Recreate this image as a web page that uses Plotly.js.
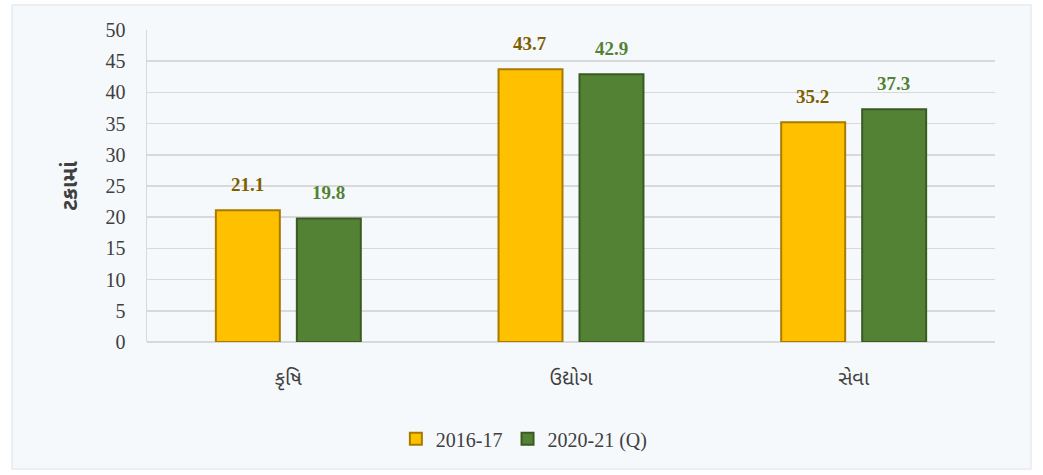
<!DOCTYPE html>
<html><head><meta charset="utf-8">
<script src="https://cdn.plot.ly/plotly-3.0.1.min.js"></script>
<style>html,body{margin:0;padding:0;background:#fff}</style>
</head><body><div id="chart" style="width:1043px;height:475px"></div>
<script>
const categories = ['કૃષિ', 'ઉદ્યોગ', 'સેવા'];
const series1Name = '2016-17';
const series1 = [21.1, 43.7, 35.2];
const series2Name = '2020-21 (Q)';
const series2 = [19.8, 42.9, 37.3];
const yTicks = [0, 5, 10, 15, 20, 25, 30, 35, 40, 45, 50];
const yTitle = 'ટકામાં';

const serif = '"Liberation Serif", "Times New Roman", serif';
const guj = '"Noto Sans Gujarati","Noto Sans", sans-serif';
const traces = [
  {type:'bar', name: series1Name, x: categories, y: series1,
   marker:{color:'#FFC000', line:{color:'#A87A00', width:2}}, hoverinfo:'none'},
  {type:'bar', name: series2Name, x: categories, y: series2,
   marker:{color:'#548235', line:{color:'#3A5A24', width:2}}, hoverinfo:'none'}
];
const ann = [];
categories.forEach((c,i)=>{
  ann.push({x:c, y:series1[i], xref:'x', yref:'y', text:'<b>'+series1[i].toFixed(1)+'</b>', showarrow:false,
    xshift:-41, yshift:13, yanchor:'bottom', font:{family:serif, size:19, color:'#7F6000'}});
  ann.push({x:c, y:series2[i], xref:'x', yref:'y', text:'<b>'+series2[i].toFixed(1)+'</b>', showarrow:false,
    xshift:40, yshift:13, yanchor:'bottom', font:{family:serif, size:19, color:'#548235'}});
});
const layout = {
  width:1043, height:475,
  margin:{l:147, r:48, t:30, b:133},
  paper_bgcolor:'#ffffff', plot_bgcolor:'rgba(0,0,0,0)',
  barmode:'group', bargap:0.427, bargroupgap:0.21,
  font:{family:serif, size:20, color:'#404040'},
  xaxis:{showgrid:false, showline:false, zeroline:false, ticks:'', ticklabelstandoff:22,
    tickfont:{family:guj, size:20, color:'#404040'}},
  yaxis:{range:[0,50], tickvals:yTicks, showgrid:true, gridcolor:'#d9d9d9', gridwidth:1.5,
    zeroline:true, zerolinecolor:'#d9d9d9', zerolinewidth:1.5, showline:true, linecolor:'#d9d9d9', linewidth:1.5,
    ticks:'', ticklabelstandoff:16, tickfont:{family:serif, size:20, color:'#404040'},
    title:{text:'<b>'+yTitle+'</b>', standoff:22, font:{family:guj, size:22, color:'#404040'}}},
  legend:{orientation:'h', x:0.445, xanchor:'center', y:-0.31, yanchor:'middle',
    font:{family:serif, size:20, color:'#404040'}, itemwidth:30, tracegroupgap:0, bgcolor:'rgba(0,0,0,0)'},
  annotations: ann,
  shapes:[
    {type:'rect', xref:'paper', yref:'paper', layer:'below',
     x0:-135/848, x1:(1043-147-12)/848, y0:-(475-342-6)/312, y1:1+25/312,
     fillcolor:'#f6f9fc', line:{color:'#e6ecf2', width:1.5}}
  ]
};
Plotly.newPlot('chart', traces, layout, {displayModeBar:false, staticPlot:true});
</script></body></html>
